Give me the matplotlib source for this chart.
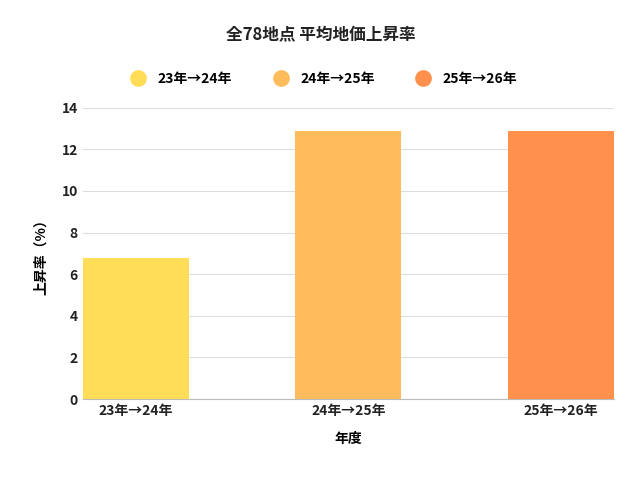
import matplotlib
matplotlib.use('Agg')
from matplotlib import pyplot as plt
from matplotlib.lines import Line2D

plt.rcParams['font.family'] = ['Noto Sans CJK JP', 'DejaVu Sans']
plt.rcParams['font.weight'] = 'bold'

periods = ['23年→24年', '24年→25年', '25年→26年']
rates = [6.8, 12.9, 12.9]
colors = ['#FFDD57', '#FFBB5C', '#FF914D']

fig = plt.figure(figsize=(6.42, 4.79), dpi=100)
ax = fig.add_axes([0.129, 0.167, 0.827, 0.608])

ax.bar(range(len(periods)), rates, width=0.5, color=colors, zorder=3)
ax.set_xlim(-0.25, 2.25)
ax.set_ylim(0, 14)
ax.set_yticks(range(0, 15, 2))
ax.set_xticks(range(len(periods)))
ax.set_xticklabels(periods)
ax.tick_params(length=0, labelsize=10, colors='#222222')
ax.grid(axis='y', color='#dddddd', linewidth=0.8, zorder=0)
for s in ['top', 'right', 'left']:
    ax.spines[s].set_visible(False)
ax.spines['bottom'].set_color('#bbbbbb')
ax.set_xlabel('年度', fontsize=10, fontweight='bold', labelpad=10)
ax.set_ylabel('上昇率（%）', fontsize=10, fontweight='bold', labelpad=10)

fig.text(0.5, 0.927, '全78地点 平均地価上昇率', ha='center', va='center',
         fontsize=12, fontweight='bold', color='#222222')

handles = [Line2D([], [], marker='o', linestyle='', markersize=11, color=c) for c in colors]
fig.legend(handles, periods, loc='center', bbox_to_anchor=(0.5, 0.835), ncol=3,
           frameon=False, fontsize=10, handletextpad=0.4, columnspacing=2.5)

fig.savefig('out.png', dpi=100)
